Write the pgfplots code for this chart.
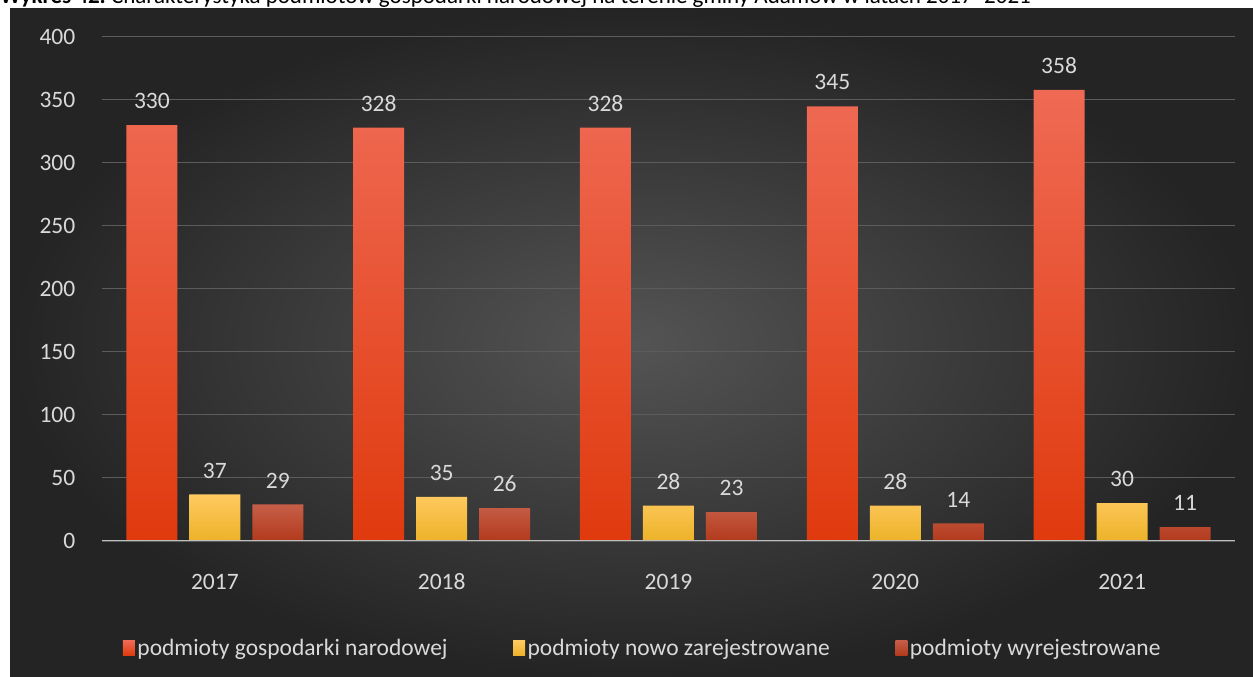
\documentclass[border=0pt]{standalone}
\usepackage{pgfplots}
\pgfplotsset{compat=1.18}
\usepackage{fontspec}
\setmainfont{Carlito}
\definecolor{txt}{RGB}{217,217,217}
\definecolor{gridc}{RGB}{92,92,92}
\definecolor{zeroc}{RGB}{190,190,190}
\definecolor{rtop}{RGB}{239,106,84}
\definecolor{rbot}{RGB}{224,58,14}
\definecolor{ytop}{RGB}{255,202,96}
\definecolor{ybot}{RGB}{236,178,40}
\definecolor{dtop}{RGB}{198,94,72}
\definecolor{dbot}{RGB}{178,58,28}
\definecolor{bgin}{RGB}{84,84,84}
\definecolor{bgout}{RGB}{36,36,36}
\begin{document}
\begin{tikzpicture}
\useasboundingbox (0,0) rectangle (1253bp,677bp);
\fill[white] (0,0) rectangle (1253bp,677bp);
\shade[inner color=bgin, outer color=bgout] (10bp,0) rectangle (1253bp,668bp);
\node[anchor=base west, inner sep=0pt, font=\fontsize{23bp}{27bp}\selectfont, text=black] at (0bp,673bp)
  {\textbf{Wykres 42.}~Charakterystyka podmiotów gospodarki narodowej na terenie gminy Adamów w latach 2017–2021};
\begin{axis}[
  at={(101.5bp,136bp)}, anchor=south west,
  scale only axis, width=1134bp, height=504bp,
  xmin=-0.5, xmax=4.5, ymin=0, ymax=400,
  ybar=12bp, bar width=51bp,
  xtick=data, xticklabels={2017,2018,2019,2020,2021},
  ytick={0,50,...,400},
  axis x line*=bottom, axis y line*=left,
  x axis line style={draw=none}, y axis line style={draw=none},
  major tick length=0pt,
  ymajorgrids, major grid style={color=gridc, line width=1bp},
  tick label style={text=txt, font=\fontsize{23.5bp}{28bp}\selectfont, inner sep=0pt},
  /pgf/number format/assume math mode=true,
  xticklabel style={anchor=center, yshift=-41bp},
  yticklabel style={anchor=east, xshift=-26bp},
  nodes near coords,
  every node near coord/.append style={text=txt, font=\fontsize{23.5bp}{28bp}\selectfont, inner sep=0pt, anchor=south, yshift=16bp},
  legend columns=3,
  legend style={at={(0.4775,-0.2123)}, anchor=center, draw=none, fill=none, text=txt,
    font=\fontsize{23.5bp}{28bp}\selectfont,
    nodes={inner xsep=2.5bp, inner ysep=0pt},
    /tikz/every even column/.append style={column sep=63bp}},
  legend image code/.code={\fill[#1] (0bp,-7.5bp) rectangle (12bp,7.5bp);},
]
\addplot[draw=none, top color=rtop, bottom color=rbot] coordinates {(0,330) (1,328) (2,328) (3,345) (4,358)};
\addplot[draw=none, top color=ytop, bottom color=ybot] coordinates {(0,37) (1,35) (2,28) (3,28) (4,30)};
\addplot[draw=none, top color=dtop, bottom color=dbot] coordinates {(0,29) (1,26) (2,23) (3,14) (4,11)};
\legend{podmioty gospodarki narodowej, podmioty nowo zarejestrowane, podmioty wyrejestrowane}
\draw[zeroc, line width=2.5bp] (axis cs:-0.5,0) -- (axis cs:4.5,0);
\end{axis}
\end{tikzpicture}
\end{document}
